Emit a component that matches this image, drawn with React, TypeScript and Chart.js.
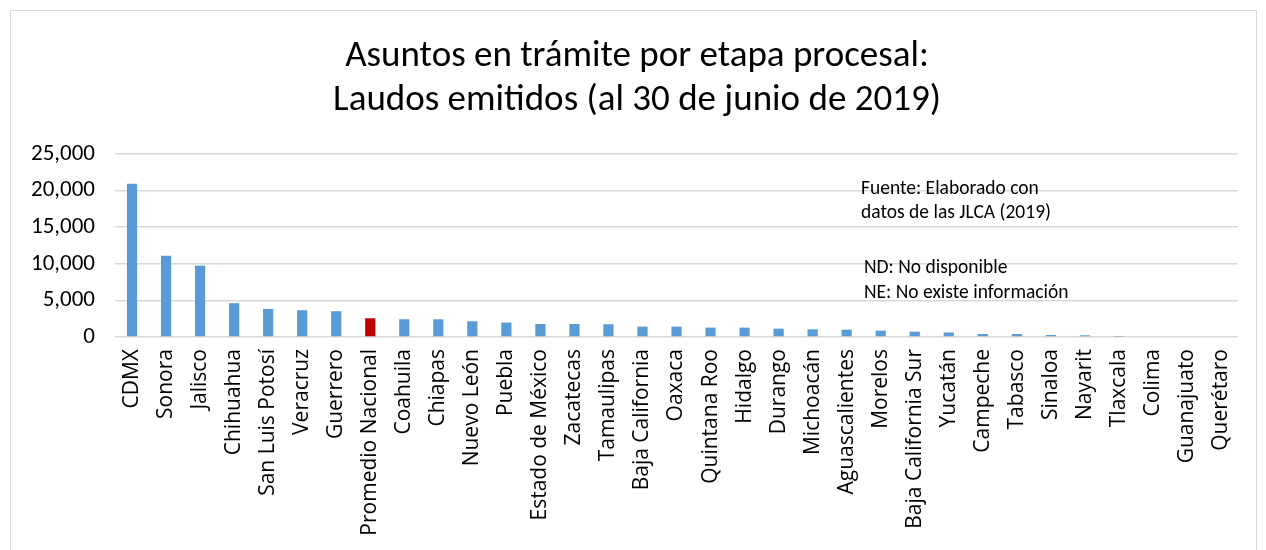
import React, { useEffect, useRef } from "react";
import { Chart, registerables } from "chart.js";

Chart.register(...registerables);

const categories: string[] = [
  "CDMX", "Sonora", "Jalisco", "Chihuahua", "San Luis Potosí", "Veracruz", "Guerrero",
  "Promedio Nacional", "Coahuila", "Chiapas", "Nuevo León", "Puebla", "Estado de México",
  "Zacatecas", "Tamaulipas", "Baja California", "Oaxaca", "Quintana Roo", "Hidalgo",
  "Durango", "Michoacán", "Aguascalientes", "Morelos", "Baja California Sur", "Yucatán",
  "Campeche", "Tabasco", "Sinaloa", "Nayarit", "Tlaxcala", "Colima", "Guanajuato", "Querétaro",
];

const laudos: number[] = [
  20930, 11100, 9750, 4620, 3840, 3660, 3520,
  2560, 2420, 2420, 2150, 1970, 1780,
  1780, 1740, 1420, 1420, 1280, 1280,
  1140, 1050, 1000, 870, 730, 620,
  410, 410, 270, 230, 50, 0, 0, 0,
];

const highlight = "Promedio Nacional";
const titleLines: string[] = [
  "Asuntos en trámite por etapa procesal:",
  "Laudos emitidos (al 30 de junio de 2019)",
];
const noteLines: string[] = [
  "Fuente: Elaborado con",
  "datos de las JLCA (2019)",
  "",
  "ND: No disponible",
  "NE: No existe información",
];

const yTicks: number[] = [0, 5000, 10000, 15000, 20000, 25000];

const FONT = "Carlito, Calibri, 'Open Sans', sans-serif";
const LABEL_FONT = "'Open Sans', sans-serif";

const textPlugin = {
  id: "texts",
  afterDraw(chart: any) {
    const ctx = chart.ctx;
    ctx.save();
    ctx.fillStyle = "#000";
    ctx.textBaseline = "middle";
    // title, centred on the chart frame
    ctx.font = `37px ${FONT}`;
    ctx.textAlign = "center";
    const tx = 637;
    const tys = [57, 101];
    titleLines.forEach((t, i) => ctx.fillText(t, tx, tys[i]));
    // notes
    ctx.font = `19.5px ${FONT}`;
    ctx.textAlign = "left";
    const x0 = 861;
    const ys = [189, 213, 0, 268, 293];
    noteLines.forEach((t, i) => {
      if (!t) return;
      ctx.fillText(t, i >= 3 ? x0 + 3 : x0, ys[i]);
    });
    ctx.restore();
  },
};

export default function App() {
  const ref = useRef<HTMLCanvasElement | null>(null);
  useEffect(() => {
    if (!ref.current) return;
    const chart = new Chart(ref.current, {
      type: "bar",
      data: {
        labels: categories,
        datasets: [
          {
            data: laudos,
            backgroundColor: categories.map((c) => (c === highlight ? "#C00000" : "#5B9BD5")),
            barPercentage: 0.3,
            categoryPercentage: 1,
          },
        ],
      },
      options: {
        animation: false,
        responsive: false,
        maintainAspectRatio: false,
        layout: { padding: { left: 11, right: 28, top: 154, bottom: 0 } },
        plugins: {
          legend: { display: false },
          tooltip: { enabled: false },
          title: { display: false },
        },
        scales: {
          x: {
            grid: { display: false, drawTicks: false },
            border: { display: false },
            afterFit: (axis: any) => {
              axis.height = 213;
            },
            ticks: {
              minRotation: 90,
              maxRotation: 90,
              autoSkip: false,
              color: "#000",
              padding: 12,
              font: { family: LABEL_FONT, size: 21 },
            },
          },
          y: {
            min: 0,
            max: 25000,
            afterBuildTicks: (axis: any) => {
              axis.ticks = yTicks.map((v) => ({ value: v }));
            },
            grid: { color: "#D9D9D9", lineWidth: 1.5, drawTicks: false },
            border: { display: false },
            ticks: {
              color: "#000",
              padding: 20,
              font: { family: FONT, size: 23 },
              callback: (v: any) => Number(v).toLocaleString("en-US"),
            },
          },
        },
      },
      plugins: [textPlugin],
    });
    return () => chart.destroy();
  }, []);
  return (
    <div style={{ position: "fixed", left: 0, top: 0, width: 1266, height: 550, background: "#fff", overflow: "hidden" }}>
      <div
        style={{
          position: "absolute",
          left: 10,
          top: 10,
          width: 1247,
          height: 600,
          border: "1px solid #D9D9D9",
          boxSizing: "border-box",
        }}
      />
      <canvas ref={ref} width={1266} height={550} style={{ position: "absolute", left: 0, top: 0 }} />
    </div>
  );
}
